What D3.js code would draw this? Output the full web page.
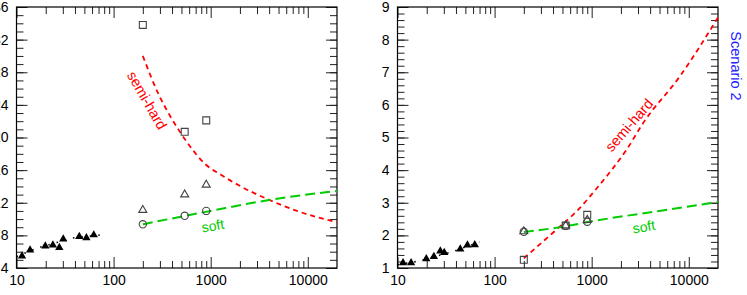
<!DOCTYPE html>
<html>
<head>
<meta charset="utf-8">
<script src="https://cdn.jsdelivr.net/npm/d3@7"></script>
<style>
  body { margin: 0; background: #fff; }
  svg { display: block; font-family: "Liberation Sans", Arial, sans-serif; }
</style>
</head>
<body>
<svg id="chart" width="747" height="295"></svg>
<script>
// shared low-energy data (filled triangles)
const lowX = [11.4, 13.8, 19.8, 23.7, 27.6, 30.3, 44.3, 52.5, 62.5];
const lowLeft = [5.47, 6.2, 6.7, 6.8, 6.5, 7.55, 7.85, 7.7, 8.05];
const lowRight = [1.16, 1.16, 1.28, 1.35, 1.52, 1.47, 1.58, 1.7, 1.71];
const trendLeft = [[10, 5.4], [16.4, 6.45], [38, 7.68], [73, 8.05]];
const trendRight = [[10, 1.1], [16.5, 1.21], [36.9, 1.5], [70, 1.8]];

// high-energy points
const highX = [200, 540, 900];
const squaresLeft = [33.8, 20.7, 22.1];
const trianglesLeft = [11.1, 13.0, 14.2];
const circlesLeft = [9.36, 10.4, 11.0];
const squaresRight = [1.25, 2.3, 2.63];
const trianglesRight = [2.12, 2.3, 2.47];
const circlesRight = [2.11, 2.29, 2.42];

// model curves
const semiHardLeft = [[200, 30.0], [288, 25.4], [395, 22.35], [481, 20.72], [609, 18.96], [868, 16.8],
  [1288, 15.4], [1906, 14.2], [4027, 12.34], [8180, 10.9], [20000, 9.6]];
const softLeft = [[200, 9.36], [1000, 11.0], [4000, 12.34], [20000, 13.44]];
const semiHardRight = [[200, 1.3], [315, 1.81], [450, 2.22], [695, 2.73], [1208, 3.55], [1660, 4.06],
  [2280, 4.62], [3380, 5.44], [8075, 6.87], [20000, 8.68]];
const softRight = [[200, 2.1], [540, 2.28], [1000, 2.43], [5000, 2.75], [20000, 3.02]];

const xMajor = [10, 100, 1000, 10000];
const yTicksLeft = [4, 8, 12, 16, 20, 24, 28, 32, 36];
const yTicksRight = [1, 2, 3, 4, 5, 6, 7, 8, 9];

const svg = d3.select("#chart");
const W = 320.5, H = 261;

function drawPanel(left, top, yDomain, yMajor, yMinorStep, d) {
  const g = svg.append("g").attr("transform", `translate(${left},${top})`);
  const x = d3.scaleLog().domain([10, 20000]).range([0, W]);
  const y = d3.scaleLinear().domain(yDomain).range([H, 0]);

  const xMinor = [];
  for (let dec = 10; dec < 20000; dec *= 10)
    for (let k = 2; k <= 9; k++) if (dec * k < 20000) xMinor.push(dec * k);
  const yMinor = d3.range(yDomain[0], yDomain[1] + 1e-9, yMinorStep);

  // ticks, all pointing inward
  const addAxis = (axis, tr) => {
    const a = g.append("g").attr("transform", tr).call(axis);
    a.select(".domain").remove();
    a.selectAll("line").attr("stroke", "#222");
    a.selectAll("text").attr("font-size", 14).attr("fill", "#000");
    return a;
  };
  addAxis(d3.axisBottom(x).tickValues(xMajor).tickSize(-11).tickPadding(7).tickFormat(d3.format("d")), `translate(0,${H})`);
  addAxis(d3.axisBottom(x).tickValues(xMinor).tickSize(-7).tickFormat(""), `translate(0,${H})`);
  addAxis(d3.axisTop(x).tickValues(xMajor).tickSize(-11).tickFormat(""), "translate(0,0)");
  addAxis(d3.axisTop(x).tickValues(xMinor).tickSize(-7).tickFormat(""), "translate(0,0)");
  addAxis(d3.axisLeft(y).tickValues(yMajor).tickSize(-11).tickPadding(-3).tickFormat(d3.format("d")), "translate(0,0)")
    .selectAll("text").attr("dx", -11);
  addAxis(d3.axisLeft(y).tickValues(yMinor).tickSize(-7).tickFormat(""), "translate(0,0)");
  addAxis(d3.axisRight(y).tickValues(yMajor).tickSize(-11).tickFormat(""), `translate(${W},0)`);
  addAxis(d3.axisRight(y).tickValues(yMinor).tickSize(-7).tickFormat(""), `translate(${W},0)`);

  g.append("rect").attr("width", W).attr("height", H)
    .attr("fill", "none").attr("stroke", "#000").attr("stroke-width", 1.2);

  const plot = g.append("g");
  const line = d3.line().x(p => x(p[0])).y(p => y(p[1])).curve(d3.curveMonotoneX);

  // dotted trend through low-energy data
  plot.append("path").attr("d", d3.line().x(p => x(p[0])).y(p => y(p[1]))(d.trend))
    .attr("fill", "none").attr("stroke", "#000").attr("stroke-width", 1.6)
    .attr("stroke-dasharray", "1.5,7");

  plot.append("path").attr("d", line(d.semi))
    .attr("fill", "none").attr("stroke", "#ff0000").attr("stroke-width", 1.8)
    .attr("stroke-dasharray", "5,4");
  plot.append("path").attr("d", line(d.soft))
    .attr("fill", "none").attr("stroke", "#00cc00").attr("stroke-width", 2)
    .attr("stroke-dasharray", "10,5");

  plot.selectAll(".lowtri").data(lowX.map((v, i) => [v, d.low[i]])).join("path")
    .attr("d", d3.symbol(d3.symbolTriangle, 30))
    .attr("transform", p => `translate(${x(p[0])},${y(p[1])})`)
    .attr("fill", "#000");

  const sym = (vals, type, size) => plot.append("g").selectAll("path")
    .data(highX.map((v, i) => [v, vals[i]])).join("path")
    .attr("d", d3.symbol(type, size))
    .attr("transform", p => `translate(${x(p[0])},${y(p[1])})`)
    .attr("fill", "none").attr("stroke", "#444").attr("stroke-width", 1.1);
  sym(d.tri, d3.symbolTriangle, 28);
  sym(d.circ, d3.symbolCircle, 42);
  sym(d.sq, d3.symbolSquare, 48);

  return g;
}

const gl = drawPanel(16.5, 7, [4, 36], yTicksLeft, 1, {
  trend: trendLeft, low: lowLeft, semi: semiHardLeft, soft: softLeft,
  sq: squaresLeft, tri: trianglesLeft, circ: circlesLeft
});
const gr = drawPanel(397.5, 7, [1, 9], yTicksRight, 0.2, {
  trend: trendRight, low: lowRight, semi: semiHardRight, soft: softRight,
  sq: squaresRight, tri: trianglesRight, circ: circlesRight
});

// curve labels
const label = (x, y, rot, txt, color, size) => svg.append("text")
  .attr("transform", `translate(${x},${y}) rotate(${rot})`)
  .attr("text-anchor", "middle").attr("dominant-baseline", "middle")
  .attr("font-size", size).attr("fill", color).text(txt);

label(146, 101, 60, "semi-hard", "#ff0000", 14.5);
label(213, 227, -10, "soft", "#00cc00", 14);
label(630, 126, -49, "semi-hard", "#ff0000", 14.5);
label(644, 228, -10, "soft", "#00cc00", 14);
label(735, 66, 90, "Scenario 2", "#2222ff", 14.5);
</script>
</body>
</html>
